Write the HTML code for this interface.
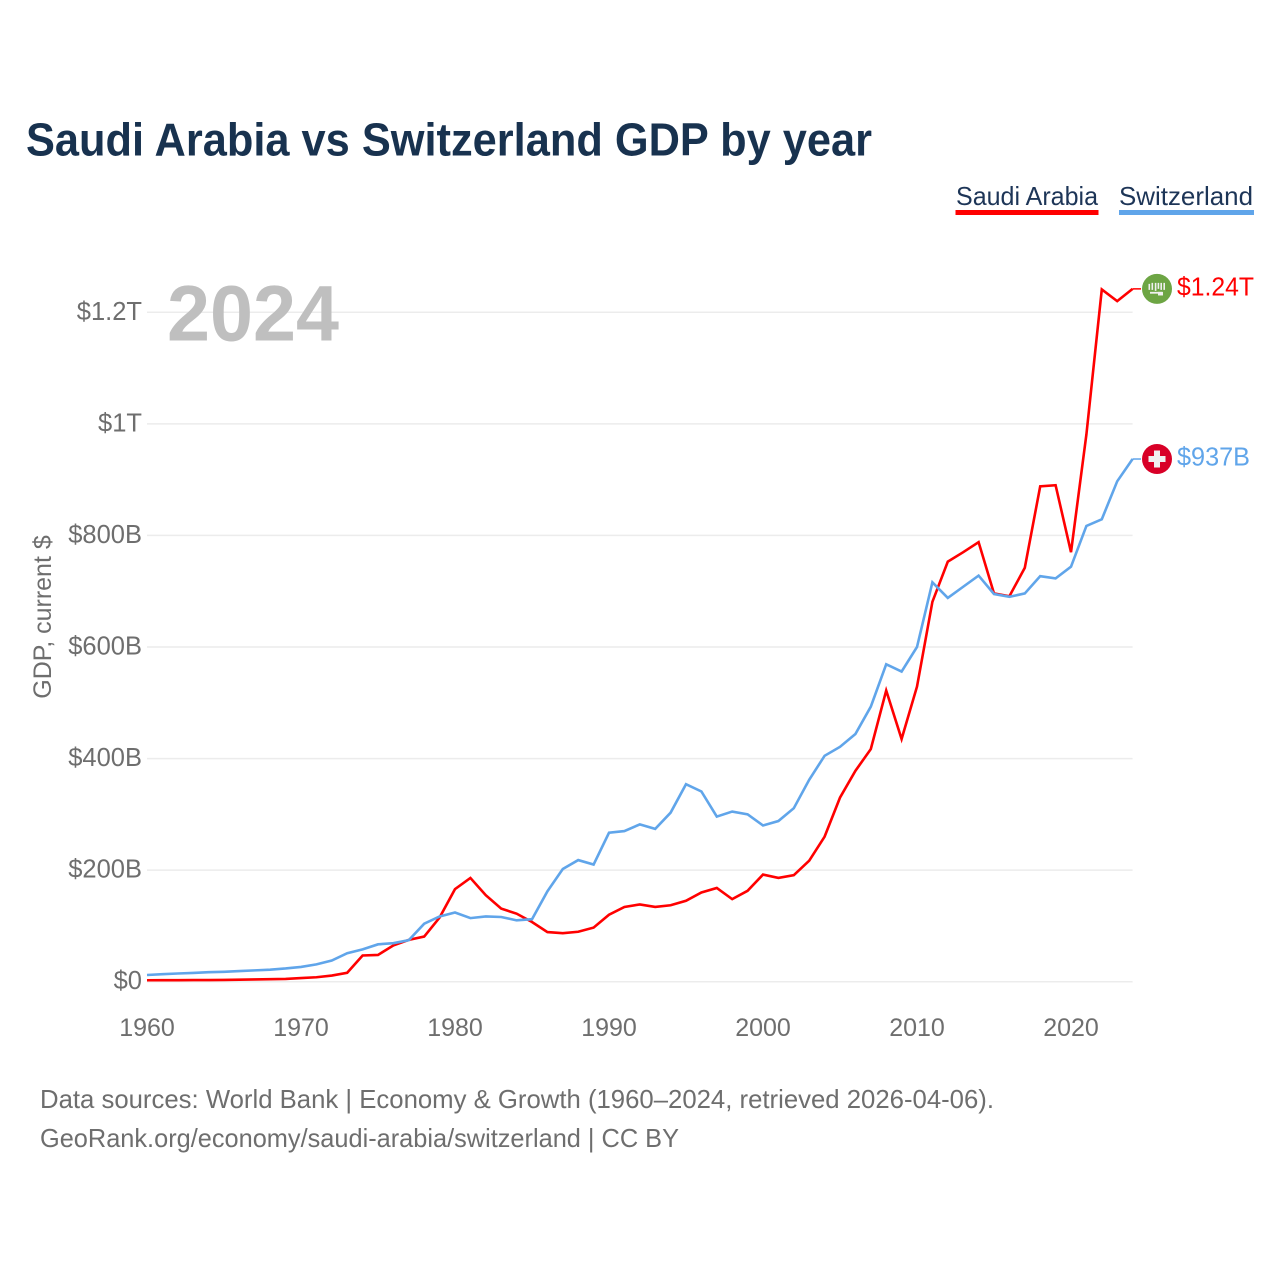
<!DOCTYPE html>
<html lang="en">
<head>
<meta charset="utf-8">
<title>Saudi Arabia vs Switzerland GDP by year</title>
<style>
  html, body { margin: 0; padding: 0; background: #ffffff; }
  svg { display: block; font-family: "Liberation Sans", sans-serif; }
</style>
</head>
<body>
<svg id="chart" xmlns="http://www.w3.org/2000/svg" width="1280" height="1280" viewBox="0 0 1280 1280">
  <rect x="0" y="0" width="1280" height="1280" fill="#ffffff"/>
  <text x="26" y="155.500" font-size="46" font-weight="700" fill="#18324f" textLength="846" lengthAdjust="spacingAndGlyphs">Saudi Arabia vs Switzerland GDP by year</text>

  <g>
    <g>
      <text x="956" y="205" font-size="26" fill="#1d3557" textLength="142" lengthAdjust="spacingAndGlyphs">Saudi Arabia</text>
      <rect x="955.500" y="210" width="143" height="5" fill="#ff0000"/>
    </g>
    <g>
      <text x="1119" y="205" font-size="26" fill="#1d3557" textLength="134" lengthAdjust="spacingAndGlyphs">Switzerland</text>
      <rect x="1119" y="210" width="135" height="5" fill="#60a5ea"/>
    </g>
  </g>

  <g id="grid"></g>
  <g id="yLabels"></g>
  <g id="xLabels"></g>

  <text transform="translate(51 617) rotate(-90)" text-anchor="middle" font-size="25" fill="#6e6e6e">GDP, current $</text>
  <text x="167" y="340.500" font-size="79" font-weight="700" fill="#bfbfbf" textLength="172" lengthAdjust="spacingAndGlyphs">2024</text>

  <g id="series"></g>
  <g id="endMarkers"></g>

  <text x="40" y="1108" font-size="26" fill="#6e6e6e" textLength="954" lengthAdjust="spacingAndGlyphs">Data sources: World Bank | Economy &amp; Growth (1960–2024, retrieved 2026-04-06).</text>
  <text x="40" y="1147" font-size="26" fill="#6e6e6e" textLength="639" lengthAdjust="spacingAndGlyphs">GeoRank.org/economy/saudi-arabia/switzerland | CC BY</text>
</svg>

<script>
const years = [1960,1961,1962,1963,1964,1965,1966,1967,1968,1969,
  1970,1971,1972,1973,1974,1975,1976,1977,1978,1979,
  1980,1981,1982,1983,1984,1985,1986,1987,1988,1989,
  1990,1991,1992,1993,1994,1995,1996,1997,1998,1999,
  2000,2001,2002,2003,2004,2005,2006,2007,2008,2009,
  2010,2011,2012,2013,2014,2015,2016,2017,2018,2019,
  2020,2021,2022,2023,2024];
const saudiValues = [2.6,2.7,2.8,2.9,3,3.2,3.6,4,4.5,5,
  6.5,8,11,16,47,48,65,75,81,115,
  166,186,155,131,122,107,89,87,89.5,97,
  120,134,138.5,134,137,145,160,168,148,163,
  192,186,191,217,260,330,378,417,522,435,
  529,681,753,770,788,696,691,742,888,890,
  770,981,1241,1220,1242];
const swissValues = [12,13.5,14.7,15.8,17,17.8,19,20.3,21.6,23.7,
  26.5,31,38,51,58,67,69,74.5,104,117,
  124,114,117,116,110,112,162,202,218,210,
  267,270,282,274,303,354,341,296,305,300,
  280,288,311,362,405,421,444,493,569,556,
  600,716,688,708,728,695,690,696,727,723,
  744,817,829,897,937];
const yTickValues = [0,200,400,600,800,1000,1200];
const xTickValues = [1960,1970,1980,1990,2000,2010,2020];

const SVG_NS = 'http://www.w3.org/2000/svg';
const plotLeft = 147;
const plotRight = 1132.6;
const plotZeroY = 981.7;
const plotTopY = 312.3;

function xScale(year) {
  return plotLeft + (year - 1960) * (plotRight - plotLeft) / (2024 - 1960);
}
function yScale(value) {
  return plotZeroY - value * (plotZeroY - plotTopY) / 1200;
}
function formatMoney(value) {
  if (value === 0) return '$0';
  if (value >= 1000) return '$' + String(parseFloat((value / 1000).toFixed(2))) + 'T';
  return '$' + String(Math.round(value)) + 'B';
}
function make(tag, attrs, parent) {
  const el = document.createElementNS(SVG_NS, tag);
  Object.keys(attrs).forEach(function (k) { el.setAttribute(k, attrs[k]); });
  parent.appendChild(el);
  return el;
}

const gridGroup = document.getElementById('grid');
const yLabelGroup = document.getElementById('yLabels');
const xLabelGroup = document.getElementById('xLabels');
const seriesGroup = document.getElementById('series');
const markerGroup = document.getElementById('endMarkers');

yTickValues.forEach(function (v) {
  const line = make('line', { x1: plotLeft, x2: plotRight, y1: yScale(v), y2: yScale(v), stroke: '#ececec', 'stroke-width': 1.5 }, gridGroup);
  
  
  const label = make('text', { x: 142, y: yScale(v) + 7.5, 'text-anchor': 'end', 'font-size': 25.500, fill: '#6e6e6e' }, yLabelGroup);
  
  
  label.textContent = formatMoney(v);
});

xTickValues.forEach(function (yr) {
  const label = make('text', { x: xScale(yr), y: 1036, 'text-anchor': 'middle', 'font-size': 25, fill: '#6e6e6e' }, xLabelGroup);
  
  
  label.textContent = String(yr);
});

function linePoints(values) {
  return values.map(function (v, i) {
    return xScale(years[i]).toFixed(2) + ',' + yScale(v).toFixed(2);
  }).join(' ');
}

const saudiLine = make('polyline', { points: linePoints(saudiValues), fill: 'none', stroke: '#ff0000', 'stroke-width': 2.6, 'stroke-linejoin': 'miter' }, seriesGroup);



const swissLine = make('polyline', { points: linePoints(swissValues), fill: 'none', stroke: '#60a5ea', 'stroke-width': 2.6, 'stroke-linejoin': 'miter' }, seriesGroup);



const saudiEnd = saudiValues[saudiValues.length - 1];
const swissEnd = swissValues[swissValues.length - 1];
const flagX = 1157;

const saudiConnector = make('line', { x1: plotRight, x2: 1141, y1: yScale(saudiEnd), y2: yScale(saudiEnd), stroke: '#ff0000', 'stroke-width': 1.5 }, markerGroup);



const swissConnector = make('line', { x1: plotRight, x2: 1141, y1: yScale(swissEnd), y2: yScale(swissEnd), stroke: '#60a5ea', 'stroke-width': 1.5 }, markerGroup);



const saudiFlag = make('g', { transform: 'translate(' + flagX + ' ' + yScale(saudiEnd) + ')' }, markerGroup);


make('circle', { cx: 0, cy: 0, r: 15, fill: '#6da544' }, saudiFlag);
[[-8.5,-5,1.6,6],[-5.5,-6,1.6,7],[-2.2,-6,1.6,8],[0.6,-6,1.6,6],[3.4,-6,1.6,7],[6.4,-6,1.6,7]].forEach(function (r) {
  make('rect', { x: r[0], y: r[1], width: r[2], height: r[3], fill: '#f0f0f0' }, saudiFlag);
});
make('rect', { x: -7, y: 3, width: 12, height: 1.8, fill: '#f0f0f0' }, saudiFlag);
make('rect', { x: 1, y: 3, width: 5, height: 3.6, fill: '#f0f0f0' }, saudiFlag);

const swissFlag = make('g', { transform: 'translate(' + flagX + ' ' + yScale(swissEnd) + ')' }, markerGroup);


make('circle', { cx: 0, cy: 0, r: 15, fill: '#d80027' }, swissFlag);
make('rect', { x: -3, y: -8.5, width: 6, height: 17, fill: '#f0f0f0' }, swissFlag);
make('rect', { x: -8.5, y: -3, width: 17, height: 6, fill: '#f0f0f0' }, swissFlag);

const saudiValueLabel = make('text', { x: 1177, y: yScale(saudiEnd) + 6.5, 'font-size': 26, fill: '#ff0000', textLength: 77, lengthAdjust: 'spacingAndGlyphs' }, markerGroup);


saudiValueLabel.textContent = formatMoney(saudiEnd);

const swissValueLabel = make('text', { x: 1177, y: yScale(swissEnd) + 6.5, 'font-size': 26, fill: '#60a5ea', textLength: 73, lengthAdjust: 'spacingAndGlyphs' }, markerGroup);


swissValueLabel.textContent = formatMoney(swissEnd);
</script>
</body>
</html>
